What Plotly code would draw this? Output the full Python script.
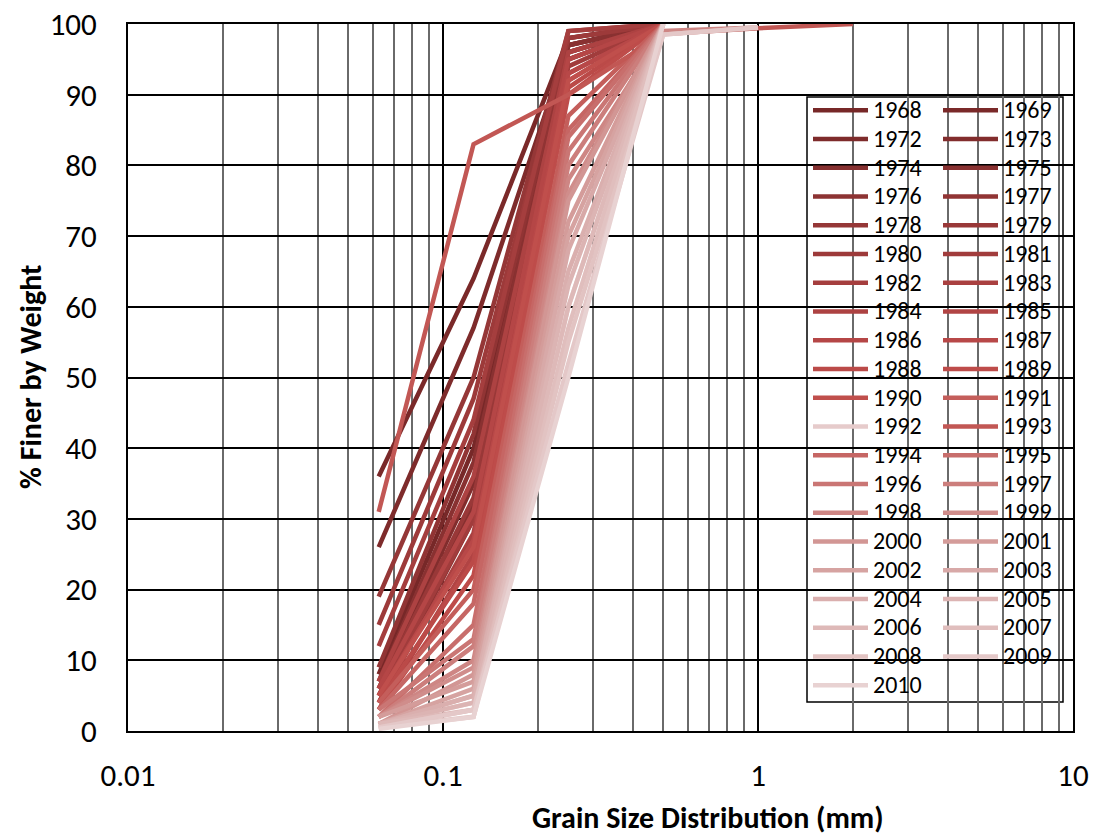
import plotly.graph_objects as go

# Sieve sizes (mm)
sizes = [0.0625, 0.125, 0.25, 0.5, 1, 2]

years = [1968, 1969, 1972, 1973, 1974, 1975, 1976, 1977, 1978, 1979,
         1980, 1981, 1982, 1983, 1984, 1985, 1986, 1987, 1988, 1989,
         1990, 1991, 1992, 1993, 1994, 1995, 1996, 1997, 1998, 1999,
         2000, 2001, 2002, 2003, 2004, 2005, 2006, 2007, 2008, 2009, 2010]

# % finer by weight at each sieve size
finer = {
    1968: [8, 40, 97, 100],
    1969: [36, 64, 98, 100],
    1972: [26, 57, 97, 100],
    1973: [6, 35, 96, 100],
    1974: [5, 32, 95, 100],
    1975: [7, 38, 97, 100],
    1976: [4, 30, 96, 100],
    1977: [9, 42, 98, 100],
    1978: [19, 50, 99, 100],
    1979: [6, 33, 95, 100],
    1980: [15, 47, 98, 100],
    1981: [5, 30, 94, 100],
    1982: [12, 44, 99, 100],
    1983: [4, 28, 93, 100],
    1984: [7, 36, 96, 100],
    1985: [3, 25, 92, 100],
    1986: [6, 31, 95, 100],
    1987: [5, 27, 93, 100],
    1988: [4, 24, 91, 100],
    1989: [3, 22, 90, 100],
    1990: [5, 26, 92, 100],
    1991: [4, 20, 87, 100],
    1992: [1, 4, 60, 100],
    1993: [31, 83, 90, 98.6, 99.4, 100],
    1994: [3, 18, 85, 100],
    1995: [2, 15, 84, 100],
    1996: [3, 13, 82, 100],
    1997: [2, 12, 80, 100],
    1998: [2, 10, 78, 99, 99.5],
    1999: [2, 9, 76, 100],
    2000: [1, 8, 75, 100],
    2001: [2, 7, 72, 100],
    2002: [1, 6, 70, 100],
    2003: [1, 5, 68, 100],
    2004: [1, 5, 65, 100],
    2005: [1, 4, 63, 100],
    2006: [1, 3, 60, 100],
    2007: [0.5, 3, 57, 100],
    2008: [0.5, 2, 55, 98.5, 99.5],
    2009: [0.5, 3, 52, 98.5, 99.5],
    2010: [0.3, 2, 50, 100],
}

colors = ["#772828", "#7A2929", "#7E2B2B", "#822D2D", "#863030", "#893131",
          "#8D3333", "#913434", "#953737", "#993838", "#9D3A3A", "#A13C3C",
          "#A53E3E", "#A94040", "#AD4242", "#B14444", "#B54646", "#B84848",
          "#BB4A48", "#BE4C4A", "#C04F4C", "#C45E5B", "#E6CBCB", "#C25754",
          "#C66664", "#C86E6C", "#CA7674", "#CC7E7C", "#CE8684", "#D08D8B",
          "#D29694", "#D49C9A", "#D6A3A1", "#D8A9A8", "#DAAFAE", "#DCB4B3",
          "#DEB9B8", "#E0BEBD", "#E2C3C2", "#E4C8C8", "#E8D2D2"]

FONT = "Carlito, 'Open Sans', sans-serif"

fig = go.Figure()
for i, yr in enumerate(years):
    vals = finer[yr]
    fig.add_trace(go.Scatter(
        x=sizes[:len(vals)], y=vals, mode="lines",
        name=f'<span style="font-size:24px">{yr}</span>',
        line=dict(color=colors[i], width=4.5),
        legend="legend" if i % 2 == 0 else "legend2",
    ))

W, H = 1093, 836
L, R, T, B = 128, 20, 24, 105
pw, ph = W - L - R, H - T - B

def px(x):
    return (x - L) / pw

def py(y):
    return (H - B - y) / ph

legend_common = dict(
    bgcolor="rgba(0,0,0,0)", borderwidth=0,
    font=dict(family=FONT, size=19.8, color="black"),
    itemwidth=55, xanchor="left", yanchor="top", orientation="v",
    tracegroupgap=0,
)

fig.update_layout(
    width=W, height=H,
    margin=dict(l=L, r=R, t=T, b=B, autoexpand=False),
    plot_bgcolor="white", paper_bgcolor="white",
    font=dict(family=FONT, size=24, color="black"),
    legend=dict(x=px(808), y=py(91), **legend_common),
    legend2=dict(x=px(938), y=py(91), **legend_common),
    xaxis=dict(
        type="log", range=[-2, 1], dtick=1, automargin=False,
        showgrid=True, gridcolor="black", gridwidth=1.5,
        showline=True, linecolor="black", linewidth=2, mirror=True,
        ticks="", tickfont=dict(family=FONT, size=31),
        ticklabelstandoff=16, ticklabeloverflow="allow",
        minor=dict(showgrid=True, gridcolor="#6a6a6a", gridwidth=1.5, ticks="", dtick="D1"),
        zeroline=False,
    ),
    yaxis=dict(
        range=[0, 100], dtick=10, automargin=False,
        showgrid=True, gridcolor="black", gridwidth=1.5,
        showline=True, linecolor="black", linewidth=2, mirror=True,
        ticks="", tickfont=dict(family=FONT, size=31),
        ticklabelstandoff=23, ticklabeloverflow="allow", zeroline=False,
    ),
    shapes=[dict(type="rect", xref="paper", yref="paper",
                 x0=px(807), x1=px(1063), y0=py(702), y1=py(97),
                 fillcolor="white", line=dict(color="black", width=1.5),
                 layer="between")],
    annotations=[
        dict(text="<b>Grain Size Distribution (mm)</b>", xref="paper", yref="paper",
             x=px(708), y=py(817), showarrow=False, xanchor="center", yanchor="middle",
             font=dict(family=FONT, size=30)),
        dict(text="<b>% Finer by Weight</b>", xref="paper", yref="paper",
             x=px(30), y=py(377), showarrow=False, textangle=-90,
             xanchor="center", yanchor="middle",
             font=dict(family=FONT, size=30)),
    ],
)

fig.write_html(
    "out.html",
    config={"displayModeBar": False},
    post_script="document.body.style.margin='0px';document.body.style.overflow='hidden';",
)
